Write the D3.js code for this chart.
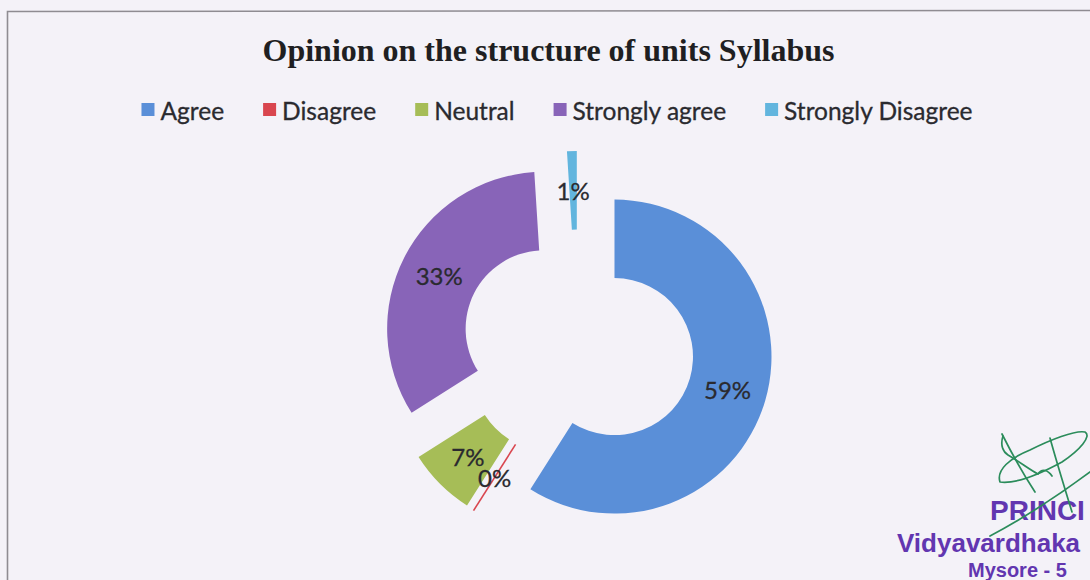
<!DOCTYPE html>
<html>
<head>
<meta charset="utf-8">
<script src="https://cdn.jsdelivr.net/npm/d3@7"></script>
<style>
  html, body { margin: 0; padding: 0; background: #f4f2f8; }
  svg { display: block; }
</style>
</head>
<body>
<svg id="chart" width="1090" height="580"></svg>
<script>
// Survey responses: opinion on the structure of units syllabus (percent of respondents)
const categories = ["Agree", "Disagree", "Neutral", "Strongly agree", "Strongly Disagree"];
const shares = [59, 0, 7, 33, 1];
const sliceColors = ["#5a8fd8", "#d9464f", "#a6bd57", "#8864b8", "#62b5de"];
const titleText = "Opinion on the structure of units Syllabus";
const stampLines = ["PRINCI", "Vidyavardhaka", "Mysore - 5"];

const W = 1090, H = 580;
const svg = d3.select("#chart");

// page background and frame
svg.append("rect").attr("width", W).attr("height", H).attr("fill", "#f4f2f8");
svg.append("path")
  .attr("d", `M7.5,${H} L7.5,11.5 L${W},10.5`)
  .attr("fill", "none").attr("stroke", "#8f8c92").attr("stroke-width", 1.6);

// title
svg.append("text")
  .attr("x", 548.5).attr("y", 61)
  .attr("text-anchor", "middle")
  .attr("font-family", "'Liberation Serif', 'Times New Roman', serif")
  .attr("font-weight", "bold")
  .attr("font-size", 32)
  .attr("textLength", 572)
  .attr("lengthAdjust", "spacingAndGlyphs")
  .attr("fill", "#1f1f22")
  .text(titleText);

// legend, laid out from measured text widths and centred
const legendFont = "Lato, 'Open Sans', sans-serif";
const legendSize = 24.5, sw = 13, swGap = 6, itemGap = 39, legendY = 110;
const legend = svg.append("g");
const items = legend.selectAll("g").data(categories).join("g");
items.append("rect")
  .attr("width", sw).attr("height", sw)
  .attr("y", legendY - sw / 2 - 0.5)
  .attr("fill", (d, i) => sliceColors[i]);
items.append("text")
  .attr("x", sw + swGap)
  .attr("y", legendY)
  .attr("dominant-baseline", "central")
  .attr("font-family", legendFont)
  .attr("font-size", legendSize)
  .attr("fill", "#2a2a2f")
  .attr("stroke", "#2a2a2f").attr("stroke-width", 0.3)
  .text(d => d);
let widths = [];
items.each(function () {
  widths.push(sw + swGap + d3.select(this).select("text").node().getComputedTextLength());
});
const totalW = d3.sum(widths) + itemGap * (widths.length - 1);
let lx = 557 - totalW / 2;
items.each(function (d, i) {
  d3.select(this).attr("transform", `translate(${lx},0)`);
  lx += widths[i] + itemGap;
});

// exploded doughnut
const cx = 578, cy = 346, outerR = 157, innerR = 78.5, explode = 38;
const pie = d3.pie().sort(null).value(d => d).startAngle(0).endAngle(2 * Math.PI);
const arcs = pie(shares);
const arc = d3.arc().innerRadius(innerR).outerRadius(outerR);
const offset = a => {
  const m = (a.startAngle + a.endAngle) / 2;
  return [explode * Math.sin(m), -explode * Math.cos(m)];
};

const ring = svg.append("g").attr("transform", `translate(${cx},${cy})`);
const slices = ring.selectAll("g.slice").data(arcs).join("g")
  .attr("class", "slice")
  .attr("transform", a => `translate(${offset(a)})`);

slices.append("path")
  .attr("d", arc)
  .attr("fill", (a, i) => sliceColors[i]);

// zero-valued slices still show as a thin radial line
slices.filter(a => a.value === 0).append("line")
  .attr("x1", a => innerR * Math.sin(a.startAngle))
  .attr("y1", a => -innerR * Math.cos(a.startAngle))
  .attr("x2", a => outerR * Math.sin(a.startAngle))
  .attr("y2", a => -outerR * Math.cos(a.startAngle))
  .attr("stroke", a => sliceColors[a.index])
  .attr("stroke-width", 1.6);

// data labels sit above every slice
const total = d3.sum(shares);
ring.append("g").selectAll("text").data(arcs).join("text")
  .attr("transform", a => {
    const [ox, oy] = offset(a);
    const [x, y] = arc.centroid(a);
    return `translate(${x + ox},${y + oy})`;
  })
  .attr("text-anchor", "middle")
  .attr("dominant-baseline", "central")
  .attr("font-family", legendFont)
  .attr("font-size", 24)
  .attr("fill", "#2a2a2f")
  .attr("stroke", "#2a2a2f").attr("stroke-width", 0.3)
  .text(a => d3.format(".0%")(a.value / total));

// principal's signature and stamp in the lower right corner
const stamp = svg.append("g");
stamp.selectAll("text").data(stampLines).join("text")
  .attr("x", (d, i) => [990, 897, 968][i])
  .attr("y", (d, i) => [520, 552, 577][i])
  .attr("font-family", "'Liberation Sans', Arial, sans-serif")
  .attr("font-weight", "bold")
  .attr("font-size", (d, i) => [28, 26, 20][i])
  .attr("fill", "#6236b0")
  .text(d => d);

const sig = svg.append("g")
  .attr("fill", "none").attr("stroke", "#2b8c5b").attr("stroke-width", 1.7)
  .attr("stroke-linecap", "round").attr("stroke-linejoin", "round");
sig.append("path").attr("d", "M1002,434 C1010,450 1022,472 1035,492");
sig.append("path").attr("d", "M1000,482 C996,470 1010,458 1030,450 C1050,440 1075,430 1085,432 C1092,436 1080,450 1062,462 C1040,474 1015,484 1000,482");
sig.append("path").attr("d", "M1050,438 C1056,460 1064,486 1072,512");
sig.append("path").attr("d", "M990,536 C1020,520 1055,498 1090,472");
sig.append("path").attr("d", "M1003,436 C1000,445 1003,452 1008,455 C1020,462 1030,470 1038,474 C1042,468 1048,470 1052,476");
</script>
</body>
</html>
